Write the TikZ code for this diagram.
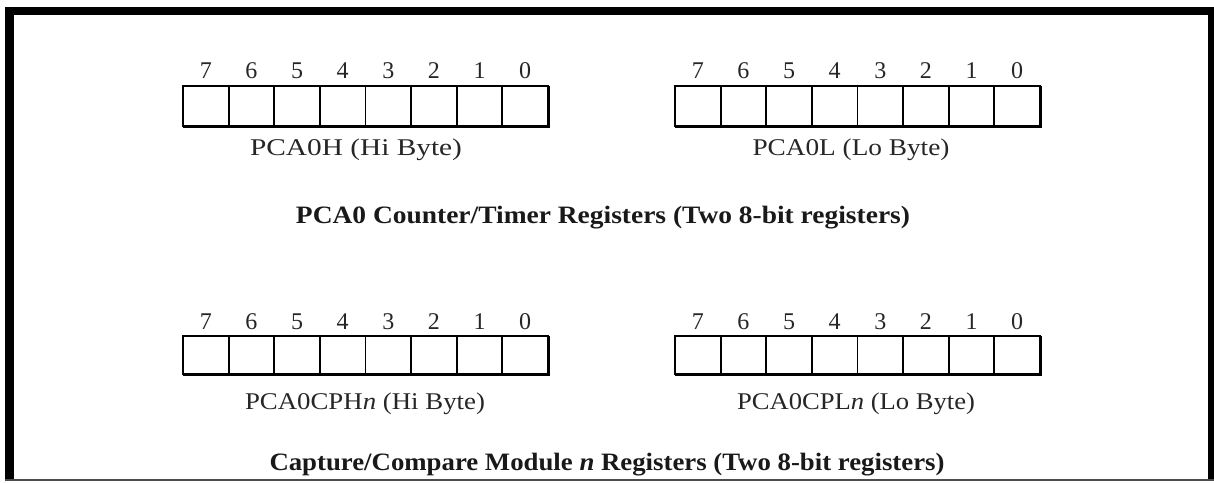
\documentclass[tikz,border=0pt]{standalone}
\usepackage{fontspec}
\setmainfont{Liberation Serif}
\usepackage{graphicx}
\begin{document}
\begin{tikzpicture}[x=1pt,y=-1pt,
  cell/.style={draw=black, line width=1.8pt, inner sep=0pt, outer sep=0pt, minimum width=45.625pt},
  digit/.style={font=\fontsize{24}{26}\selectfont, text=black!85, inner sep=0pt},
  reglabel/.style={font=\fontsize{24}{26}\selectfont, text=black!85, inner sep=0pt},
  title/.style={font=\fontsize{25}{28}\selectfont\bfseries, text=black!90, inner sep=0pt},
  frame/.style={fill=black}]
\useasboundingbox (0,0) rectangle (1214,482);
% frame
\fill[frame] (5,7) rectangle (14,481);
\fill[frame] (5,7) rectangle (1214,15);
\fill[frame] (1208,7) rectangle (1214,481);
\draw[line width=2pt, black!70] (5,480) -- (1214,480);
% registers
\foreach \r/\x/\yt/\yb/\dy in {a/183/86/126/71, b/675/86/126/71, c/183/336/374/322, d/675/336/374/322} {
  \foreach \i in {0,...,7} {
    \pgfmathtruncatemacro\bit{7-\i}
    \node[cell, minimum height={(\yb-\yt)*1pt}] (\r\i) at ({\x+45.625*\i+22.8125},{(\yt+\yb)/2}) {};
    \node[digit] (\r d\i) at ({\x+45.625*\i+22.8125},\dy) {\bit};
  }
  \draw[line width=3.2pt] ([yshift=-0.8pt]\r0.south west) -- ([yshift=-0.8pt]\r7.south east);
  \draw[line width=2.8pt] ([xshift=0.6pt]\r7.north east) -- ([xshift=0.6pt,yshift=-2.4pt]\r7.south east);
}
% register labels
\node[reglabel] (la) at (356,150) {\resizebox{212pt}{\height}{PCA0H (Hi Byte)}};
\node[reglabel] (lb) at (851,150) {\resizebox{197pt}{\height}{PCA0L (Lo Byte)}};
\node[reglabel] (lc) at (365,404) {\resizebox{240pt}{\height}{PCA0CPH\textit{n} (Hi Byte)}};
\node[reglabel] (ld) at (856,404) {\resizebox{238pt}{\height}{PCA0CPL\textit{n} (Lo Byte)}};
% titles
\node[title] (t1) at (603,218) {\resizebox{614pt}{\height}{PCA0 Counter/Timer Registers (Two 8-bit registers)}};
\node[title] (t2) at (607,465) {\resizebox{675pt}{\height}{Capture/Compare Module \textit{n} Registers (Two 8-bit registers)}};
\end{tikzpicture}
\end{document}
